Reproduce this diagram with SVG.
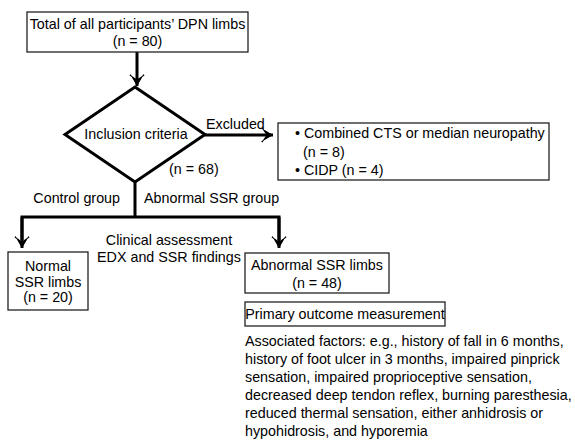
<svg xmlns="http://www.w3.org/2000/svg" width="575" height="440" viewBox="0 0 575 440">
<defs>
<style>
text{font-family:"Liberation Sans",Arial,sans-serif;font-size:14.3px;fill:#000}
.c{text-anchor:middle}
.box{fill:#fff;stroke:#222;stroke-width:1.3}
.ln{fill:none;stroke:#000;stroke-width:3}
</style>
<marker id="ah" markerUnits="userSpaceOnUse" markerWidth="24" markerHeight="24" viewBox="-12 -12 24 24" refX="0" refY="0" orient="auto">
<path d="M0,0 L-12,-6.5 L-10.5,-7.5 L-6,0 L-10.5,7.5 L-12,6.5 Z" fill="#000"/>
<path d="M0,0 L-11,-6.5 L-6.5,0 L-11,6.5 Z" fill="#000"/>
</marker>
</defs>
<rect width="575" height="440" fill="#fff"/>
<g id="connectors">
<path class="ln" d="M137,52 V86" marker-end="url(#ah)"/>
<path class="ln" d="M205,135 H273" marker-end="url(#ah)"/>
<path class="ln" d="M135,182 V217"/>
<path class="ln" d="M22,240 V217 H279 V240"/>
<path class="ln" d="M22,217 V248" marker-end="url(#ah)"/>
<path class="ln" d="M279,217 V248" marker-end="url(#ah)"/>
<text x="206" y="129">Excluded</text>
<text x="169" y="174">(n = 68)</text>
<text x="120" y="203" text-anchor="end">Control group</text>
<text x="144" y="203">Abnormal SSR group</text>
<text class="c" x="169" y="245">Clinical assessment</text>
<text class="c" x="169" y="262">EDX and SSR findings</text>
</g>
<g id="total">
<rect class="box" x="27" y="12" width="221" height="40"/>
<text class="c" x="137.5" y="29">Total of all participants’ DPN limbs</text>
<text class="c" x="137.5" y="46">(n = 80)</text>
</g>
<g id="inclusion">
<path d="M135,87 L205,134.5 L135,182 L65,134.5 Z" fill="#fff" stroke="#000" stroke-width="3" stroke-linejoin="miter"/>
<text class="c" x="136" y="139">Inclusion criteria</text>
</g>
<g id="excluded">
<rect class="box" x="278" y="123" width="271" height="57"/>
<text x="295" y="138">• Combined CTS or median neuropathy</text>
<text x="303" y="157">(n = 8)</text>
<text x="295" y="175">• CIDP (n = 4)</text>
</g>
<g id="normal">
<rect class="box" x="8" y="252" width="80" height="58"/>
<text class="c" x="48" y="271">Normal</text>
<text class="c" x="48" y="287">SSR limbs</text>
<text class="c" x="48" y="302">(n = 20)</text>
</g>
<g id="abnormal">
<rect class="box" x="245" y="253" width="144" height="40"/>
<text class="c" x="317" y="270">Abnormal SSR limbs</text>
<text class="c" x="317" y="288">(n = 48)</text>
</g>
<g id="primary">
<rect class="box" x="245" y="302" width="200" height="24"/>
<text class="c" x="345" y="319">Primary outcome measurement</text>
</g>
<g id="associated">
<text x="245" y="346">Associated factors: e.g., history of fall in 6 months,</text>
<text x="245" y="364">history of foot ulcer in 3 months, impaired pinprick</text>
<text x="245" y="382">sensation, impaired proprioceptive sensation,</text>
<text x="245" y="400">decreased deep tendon reflex, burning paresthesia,</text>
<text x="245" y="418">reduced thermal sensation, either anhidrosis or</text>
<text x="245" y="436">hypohidrosis, and hyporemia</text>
</g>
</svg>
